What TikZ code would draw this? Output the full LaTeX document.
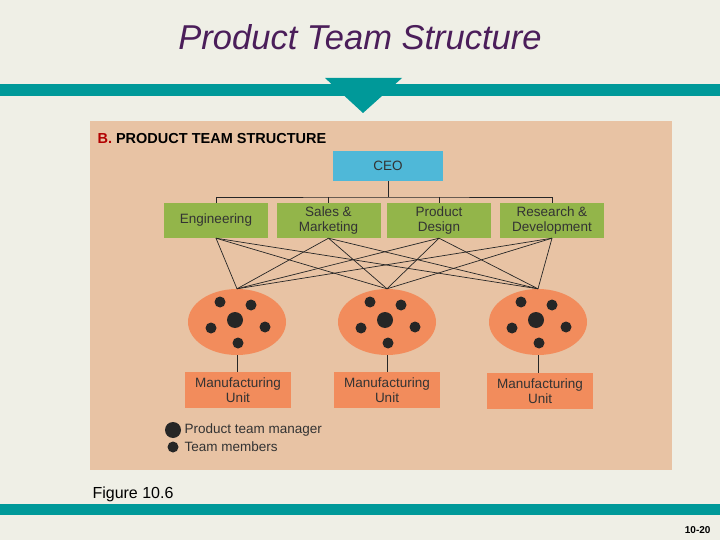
\documentclass[tikz,border=0pt]{standalone}
\usepackage{fontspec}
\setmainfont{Liberation Sans}
\begin{document}
\begin{tikzpicture}[x=1pt,y=-1pt,
  dept/.style={fill=deptg,minimum width=104,minimum height=35,inner sep=0,align=center,font=\fontsize{13.5}{14.5}\selectfont,text=black!80},
  mfg/.style={fill=unitc,minimum width=106,minimum height=36,inner sep=0,align=center,font=\fontsize{13.5}{14.5}\selectfont,text=black!80},
  team/.style={ellipse,fill=unitc,minimum width=98,minimum height=66,inner sep=0},
  big/.style={circle,fill=black!85,minimum size=16,inner sep=0},
  small/.style={circle,fill=black!85,minimum size=11,inner sep=0},
  link/.style={draw=black!85,line width=0.7}]
\definecolor{bg}{HTML}{EFEFE6}
\definecolor{teal}{HTML}{009999}
\definecolor{panel}{HTML}{E8C3A4}
\definecolor{deptg}{HTML}{93B54A}
\definecolor{ceoc}{HTML}{4FB8D8}
\definecolor{unitc}{HTML}{F28C5C}
\definecolor{ttl}{HTML}{4B1E5A}
\usetikzlibrary{shapes.geometric}
\fill[bg] (0,0) rectangle (720,540);
\useasboundingbox (0,0) rectangle (720,540);
\node[font=\itshape\fontsize{34.5}{36}\selectfont,text=ttl] (title) at (360,37) {Product Team Structure};
\fill[teal] (0,84) rectangle (720,96);
\fill[teal] (325,78) -- (402,78) -- (363,113) -- cycle;
\fill[panel] (90,121) rectangle (672,470);
\node[anchor=west,font=\bfseries\fontsize{14.5}{15}\selectfont] (hdr) at (94,139) {\textcolor{red!70!black}{B.} PRODUCT TEAM STRUCTURE};
\node[fill=ceoc,minimum width=110,minimum height=30,inner sep=0,font=\fontsize{13.5}{14.5}\selectfont,text=black!80] (ceo) at (388,166) {CEO};
\node[dept] (d1) at (216,220.5) {Engineering};
\node[dept] (d2) at (328.5,220.5) {Sales \&\\Marketing};
\node[dept] (d3) at (439,220.5) {Product\\Design};
\node[dept] (d4) at (552,220.5) {Research \&\\Development};
\coordinate (bus) at (388,197);
\draw[link] (ceo.south) -- (bus);
\draw[link] (d1.north) |- (bus) -| (d4.north);
\draw[link] (d2.north) -- (d2.north|-bus);
\draw[link] (d3.north) -- (d3.north|-bus);
\node[team] (t1) at (237,322) {};
\node[team] (t2) at (387,322) {};
\node[team] (t3) at (538,322) {};
\foreach \d in {d1,d2,d3,d4}
  \foreach \t in {t1,t2,t3}
    \draw[link] (\d.south) -- (\t.north);
\foreach \t in {t1,t2,t3}{
  \node[big] at ([xshift=-2,yshift=2]\t.center) {};
  \node[small] at ([xshift=-17,yshift=20]\t.center) {};
  \node[small] at ([xshift=14,yshift=17]\t.center) {};
  \node[small] at ([xshift=-26,yshift=-6]\t.center) {};
  \node[small] at ([xshift=28,yshift=-5]\t.center) {};
  \node[small] at ([xshift=1,yshift=-21]\t.center) {};
}
\node[mfg] (m1) at (238,390) {Manufacturing\\Unit};
\node[mfg] (m2) at (387,390) {Manufacturing\\Unit};
\node[mfg] (m3) at (540,391) {Manufacturing\\Unit};
\draw[link] (t1.south) -- (t1.south|-m1.north);
\draw[link] (t2.south) -- (t2.south|-m2.north);
\draw[link] (t3.south) -- (t3.south|-m3.north);
\node[big] (lb) at (173,430) {};
\node[small] (ls) at (173,447) {};
\node[anchor=west,font=\fontsize{13.5}{14.5}\selectfont,text=black!80] (lt1) at (181,430) {Product team manager};
\node[anchor=west,font=\fontsize{13.5}{14.5}\selectfont,text=black!80] (lt2) at (181,447) {Team members};
\node[anchor=west,font=\fontsize{16}{18}\selectfont] (fig) at (89,494) {Figure 10.6};
\fill[teal] (0,504) rectangle (720,515);
\node[anchor=east,font=\bfseries\fontsize{10}{12}\selectfont] (pg) at (714,530) {10-20};
\end{tikzpicture}
\end{document}
